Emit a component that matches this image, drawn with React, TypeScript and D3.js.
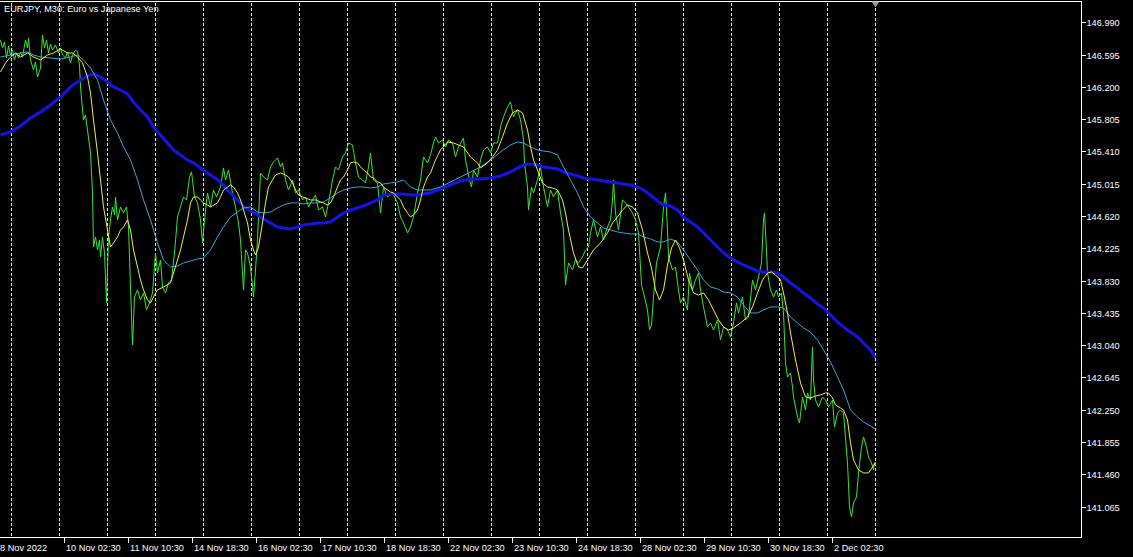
import React from 'react';
import * as d3 from 'd3';

const chartTitle = 'EURJPY, M30:  Euro vs Japanese Yen';

const priceTicks = [146.990, 146.595, 146.200, 145.805, 145.410, 145.015, 144.620, 144.225, 143.830, 143.435, 143.040, 142.645, 142.250, 141.855, 141.460, 141.065];

const timeLabels = ['8 Nov 2022', '10 Nov 02:30', '11 Nov 10:30', '14 Nov 18:30', '16 Nov 02:30', '17 Nov 10:30', '18 Nov 18:30', '22 Nov 02:30', '23 Nov 10:30', '24 Nov 18:30', '28 Nov 02:30', '29 Nov 10:30', '30 Nov 18:30', '2 Dec 02:30'];
const timeLabelBars = [0, 64, 128, 192, 256, 320, 384, 448, 512, 576, 640, 704, 768, 832];

const daySeparatorBars = [11, 59, 107, 155, 203, 251, 299, 347, 395, 443, 491, 539, 587, 635, 683, 731, 779, 827, 875];

// close price line (bar index, price)
const closeLine: [number, number][] = [
[0,146.779],[2,146.681],[4,146.754],[6,146.559],[8,146.705],[10,146.595],[12,146.657],[14,146.534],[16,146.620],[18,146.559],[20,146.632],[22,146.571],[25,146.779],[27,146.681],[28,146.803],[30,146.534],[33,146.412],[35,146.510],[37,146.326],[40,146.436],[42,146.840],[44,146.681],[46,146.779],[48,146.620],[50,146.730],[52,146.657],[55,146.718],[58,146.620],[60,146.681],[62,146.595],[65,146.559],[67,146.632],[70,146.498],[72,146.595],[75,146.657],[77,146.632],[79,146.473],[80,146.204],[83,145.801],[85,145.862],[87,145.678],[90,145.397],[92,144.908],[93,144.247],[95,144.370],[97,144.211],[99,144.333],[100,144.125],[102,144.370],[104,144.174],[106,143.563],[108,144.370],[110,144.578],[112,144.737],[114,144.639],[115,144.859],[117,144.578],[120,144.737],[123,144.663],[126,144.737],[128,144.492],[130,143.758],[132,143.049],[134,143.636],[137,143.722],[140,143.599],[143,143.685],[146,143.477],[149,143.563],[152,143.685],[155,144.174],[157,143.929],[160,144.088],[162,143.758],[165,143.685],[168,143.807],[171,143.844],[174,144.174],[177,144.614],[180,144.737],[183,144.859],[186,144.822],[189,145.103],[191,145.165],[194,144.859],[197,144.786],[200,144.578],[202,144.296],[204,144.578],[207,144.908],[210,144.737],[213,144.944],[216,144.859],[220,144.981],[223,145.214],[225,145.067],[228,145.189],[232,144.908],[235,144.737],[238,144.541],[240,144.333],[243,143.722],[245,144.211],[247,144.174],[250,144.003],[253,143.636],[255,143.966],[257,144.333],[260,145.152],[263,145.103],[267,145.067],[270,145.226],[273,145.287],[277,145.336],[280,145.226],[282,145.275],[285,145.067],[288,144.944],[292,145.067],[295,144.908],[298,144.944],[302,144.822],[305,144.859],[308,144.737],[312,144.822],[315,144.883],[318,144.700],[322,144.737],[325,144.614],[328,144.786],[332,145.067],[335,145.226],[338,145.189],[342,145.348],[345,145.397],[348,145.519],[352,145.495],[355,145.275],[358,145.103],[362,145.067],[365,145.030],[368,145.226],[370,145.397],[373,145.067],[377,145.030],[380,144.663],[383,144.981],[387,144.859],[392,144.908],[397,144.786],[400,144.614],[403,144.541],[407,144.419],[410,144.492],[413,144.614],[417,144.908],[420,145.067],[423,145.348],[427,145.275],[430,145.373],[433,145.519],[435,145.593],[438,145.519],[442,145.556],[445,145.470],[448,145.556],[452,145.519],[455,145.348],[458,145.470],[463,145.580],[465,145.311],[467,145.189],[469,145.067],[471,144.981],[473,145.189],[477,145.103],[480,145.311],[483,145.434],[487,145.470],[490,145.397],[493,145.519],[497,145.519],[500,145.715],[503,145.837],[507,145.960],[510,146.021],[513,145.837],[515,145.886],[517,145.923],[520,145.801],[523,145.556],[524,145.275],[527,144.981],[528,144.700],[531,144.981],[533,144.908],[537,145.067],[540,145.226],[543,144.981],[547,144.737],[550,144.944],[553,144.859],[557,144.944],[560,144.663],[563,144.455],[565,143.783],[568,144.052],[572,143.966],[575,144.088],[578,144.052],[582,144.125],[585,144.211],[588,144.247],[590,144.419],[593,144.578],[597,144.370],[600,144.492],[603,144.333],[607,144.492],[610,144.578],[612,144.822],[613,145.067],[615,144.663],[618,144.455],[622,144.822],[625,144.786],[628,144.737],[632,144.663],[635,144.578],[638,144.419],[641,143.783],[643,143.685],[647,143.477],[649,143.232],[651,143.294],[653,143.636],[656,144.052],[660,144.247],[663,144.737],[665,144.908],[667,144.455],[668,144.125],[672,143.966],[675,144.003],[678,143.722],[680,143.563],[683,143.636],[687,143.477],[689,143.929],[692,143.722],[695,143.844],[698,143.929],[700,143.722],[703,143.514],[707,143.269],[710,143.318],[713,143.232],[717,143.355],[720,143.110],[723,143.269],[727,143.232],[730,143.147],[733,143.318],[736,143.563],[738,143.440],[742,143.636],[745,143.355],[748,143.391],[752,143.844],[755,143.722],[758,143.881],[761,144.052],[763,144.578],[764,144.663],[766,144.211],[767,143.929],[770,143.722],[773,143.636],[776,143.722],[778,143.636],[781,143.685],[783,143.440],[785,142.829],[787,142.658],[790,142.707],[792,142.535],[793,142.413],[797,142.169],[799,142.095],[802,142.413],[805,142.254],[807,142.462],[810,142.376],[812,143.025],[813,142.621],[815,142.376],[818,142.291],[822,142.413],[825,142.376],[828,142.291],[832,142.376],[834,142.046],[837,142.217],[840,142.254],[843,142.217],[847,141.606],[849,141.068],[851,140.946],[853,141.117],[856,141.190],[858,141.484],[861,141.802],[863,141.924],[866,141.802],[868,141.679],[871,141.606],[873,141.520],[874,141.606],[875,141.582]
];

// fast moving average (yellow)
const maFast: [number, number][] = [
[0,146.388],[5,146.498],[10,146.571],[15,146.620],[20,146.571],[27,146.620],[33,146.571],[40,146.534],[47,146.595],[53,146.620],[60,146.669],[67,146.620],[72,146.620],[77,146.571],[82,146.498],[87,146.326],[90,146.131],[93,145.801],[97,145.397],[100,145.067],[103,144.737],[107,144.455],[110,144.247],[113,144.296],[117,144.370],[120,144.455],[123,144.492],[127,144.578],[130,144.455],[133,144.211],[137,144.003],[140,143.844],[143,143.722],[147,143.599],[150,143.563],[153,143.636],[157,143.722],[163,143.758],[170,143.807],[173,143.929],[177,144.088],[180,144.211],[183,144.370],[187,144.578],[190,144.786],[193,144.859],[197,144.859],[200,144.822],[203,144.786],[207,144.761],[210,144.737],[217,144.786],[220,144.859],[223,144.944],[227,144.981],[230,145.006],[233,144.981],[237,144.908],[240,144.822],[243,144.700],[247,144.541],[250,144.333],[253,144.211],[255,144.150],[258,144.247],[262,144.541],[265,144.786],[268,144.981],[272,145.067],[275,145.128],[280,145.152],[285,145.128],[288,145.103],[292,145.030],[295,144.944],[298,144.883],[302,144.859],[305,144.847],[310,144.822],[315,144.822],[320,144.798],[323,144.786],[327,144.761],[330,144.786],[333,144.859],[337,144.981],[340,145.067],[343,145.103],[347,145.189],[350,145.275],[353,145.287],[357,145.275],[360,145.226],[363,145.189],[367,145.152],[370,145.103],[373,145.091],[377,145.042],[380,145.030],[383,144.981],[387,144.944],[390,144.920],[393,144.908],[397,144.859],[400,144.822],[403,144.737],[407,144.663],[410,144.614],[413,144.639],[417,144.700],[420,144.822],[423,144.981],[427,145.103],[430,145.152],[435,145.311],[440,145.434],[447,145.531],[453,145.519],[458,145.495],[463,145.470],[470,145.348],[477,145.275],[480,145.214],[487,145.275],[492,145.348],[497,145.434],[502,145.593],[507,145.764],[512,145.886],[517,145.923],[522,145.886],[527,145.678],[530,145.470],[533,145.311],[537,145.189],[542,145.030],[547,144.981],[552,144.969],[557,144.944],[562,144.822],[565,144.663],[568,144.455],[573,144.174],[578,144.003],[582,143.991],[587,144.088],[593,144.211],[600,144.296],[607,144.419],[612,144.541],[617,144.614],[622,144.700],[627,144.761],[632,144.737],[637,144.663],[642,144.455],[647,144.174],[651,143.991],[655,143.722],[659,143.599],[663,143.722],[667,144.027],[671,144.235],[675,144.333],[679,144.235],[683,144.088],[688,143.844],[693,143.685],[698,143.660],[703,143.685],[708,143.599],[713,143.477],[718,143.355],[723,143.269],[728,143.232],[733,143.257],[740,143.318],[747,143.391],[752,143.514],[757,143.685],[762,143.844],[767,143.929],[771,143.942],[775,143.905],[780,143.844],[783,143.685],[787,143.440],[790,143.196],[795,142.866],[800,142.584],[805,142.413],[810,142.401],[815,142.425],[820,142.438],[825,142.462],[828,142.462],[832,142.401],[835,142.315],[840,142.279],[843,142.254],[847,142.132],[850,141.851],[853,141.643],[858,141.520],[863,141.484],[868,141.484],[872,141.557],[875,141.618]
];

// medium moving average (light blue)
const maMid: [number, number][] = [
[0,146.571],[10,146.595],[20,146.620],[27,146.632],[33,146.595],[40,146.571],[50,146.559],[60,146.546],[70,146.571],[77,146.595],[83,146.534],[90,146.436],[97,146.290],[103,146.045],[110,145.801],[117,145.642],[123,145.470],[130,145.311],[137,145.067],[143,144.822],[150,144.578],[157,144.296],[163,144.088],[170,144.003],[177,144.015],[183,144.052],[190,144.076],[197,144.101],[203,144.113],[210,144.211],[217,144.370],[223,144.492],[230,144.614],[237,144.675],[243,144.724],[250,144.737],[257,144.675],[263,144.663],[270,144.675],[277,144.724],[283,144.761],[290,144.786],[297,144.786],[303,144.773],[310,144.786],[317,144.786],[323,144.798],[330,144.847],[337,144.908],[343,144.944],[350,144.969],[357,144.981],[363,144.981],[370,144.969],[377,144.981],[383,145.018],[390,145.030],[397,145.042],[403,145.067],[410,144.981],[417,144.944],[423,144.944],[430,144.944],[440,144.981],[450,145.042],[460,145.103],[470,145.165],[480,145.226],[490,145.311],[500,145.409],[510,145.495],[517,145.531],[523,145.519],[530,145.470],[537,145.434],[543,145.421],[550,145.409],[557,145.373],[563,145.226],[570,145.067],[577,144.908],[583,144.737],[590,144.614],[597,144.541],[603,144.480],[610,144.455],[617,144.431],[623,144.419],[630,144.406],[637,144.406],[643,144.370],[650,144.345],[657,144.309],[663,144.309],[670,144.345],[677,144.309],[683,144.211],[690,144.088],[697,143.966],[703,143.844],[710,143.758],[717,143.734],[723,143.697],[730,143.685],[737,143.636],[743,143.538],[750,143.440],[757,143.440],[763,143.477],[770,143.514],[777,143.514],[783,143.501],[790,143.391],[797,143.318],[803,143.257],[810,143.208],[817,143.110],[823,142.988],[830,142.841],[837,142.658],[843,142.499],[850,142.254],[857,142.169],[863,142.107],[870,142.058],[875,142.022]
];

// slow moving average (thick blue)
const maSlow: [number, number][] = [
[0,145.617],[10,145.654],[20,145.727],[30,145.825],[40,145.898],[50,145.984],[60,146.082],[70,146.204],[80,146.290],[87,146.339],[93,146.363],[100,146.326],[107,146.265],[113,146.204],[120,146.167],[127,146.118],[133,146.021],[140,145.923],[147,145.837],[153,145.715],[160,145.617],[167,145.519],[173,145.434],[180,145.373],[187,145.311],[193,145.275],[200,145.214],[207,145.152],[213,145.103],[220,145.042],[230,144.908],[237,144.822],[243,144.749],[250,144.688],[257,144.639],[263,144.590],[270,144.541],[277,144.492],[283,144.480],[290,144.468],[297,144.492],[303,144.516],[310,144.529],[317,144.541],[323,144.541],[330,144.553],[337,144.614],[343,144.663],[350,144.700],[357,144.724],[363,144.749],[370,144.786],[377,144.822],[383,144.883],[390,144.896],[397,144.896],[403,144.896],[410,144.883],[417,144.883],[423,144.896],[430,144.908],[440,144.957],[450,145.006],[460,145.055],[470,145.079],[480,145.079],[490,145.091],[500,145.116],[510,145.165],[517,145.214],[523,145.250],[530,145.262],[537,145.250],[543,145.226],[550,145.214],[557,145.201],[563,145.165],[570,145.140],[577,145.116],[583,145.091],[590,145.079],[597,145.067],[603,145.055],[610,145.042],[617,145.030],[623,145.018],[630,145.006],[637,144.981],[643,144.944],[650,144.883],[657,144.810],[663,144.761],[670,144.749],[677,144.700],[683,144.614],[690,144.553],[697,144.492],[703,144.419],[710,144.333],[717,144.247],[723,144.174],[730,144.113],[737,144.064],[743,144.027],[750,143.991],[757,143.954],[763,143.942],[770,143.942],[777,143.929],[783,143.881],[790,143.807],[797,143.746],[803,143.685],[810,143.624],[817,143.550],[823,143.501],[830,143.416],[837,143.330],[843,143.269],[850,143.208],[857,143.147],[863,143.073],[870,142.988],[875,142.890]
];

const W = 1133;
const H = 557;
const PLOT_RIGHT = 1081.5;
const PLOT_TOP = 1.5;
const PLOT_BOTTOM = 537.5;
const FONT = "'Liberation Sans', Arial, sans-serif";

export default function App() {
  const x = d3.scaleLinear().domain([0, 875]).range([0.5, 875.5]);
  const y = d3.scaleLinear().domain([146.990, 141.065]).range([22.7, 507.2]);
  const line = d3.line<[number, number]>().x(d => x(d[0])).y(d => y(d[1]));

  return (
    <svg width={W} height={H} style={{ position: 'fixed', left: 0, top: 0, background: '#000' }}>
      <rect x={0} y={0} width={W} height={H} fill="#000" />
      {daySeparatorBars.map((b, i) => (
        <line key={'g' + i} x1={x(b)} x2={x(b)} y1={PLOT_TOP + 1} y2={PLOT_BOTTOM} stroke="#e8e8e8" strokeWidth={1} strokeDasharray="3,2" shapeRendering="crispEdges" />
      ))}
      <path d={line(closeLine) || ''} fill="none" stroke="#35e635" strokeWidth={1} />
      <path d={line(maSlow) || ''} fill="none" stroke="#1414e6" strokeWidth={3} />
      <path d={line(maMid) || ''} fill="none" stroke="#3aa6dc" strokeWidth={1} />
      <path d={line(maFast) || ''} fill="none" stroke="#f0f03c" strokeWidth={1} />
      {/* frame */}
      <line x1={0} x2={PLOT_RIGHT} y1={PLOT_TOP} y2={PLOT_TOP} stroke="#fff" strokeWidth={1} shapeRendering="crispEdges" />
      <line x1={0} x2={PLOT_RIGHT} y1={PLOT_BOTTOM} y2={PLOT_BOTTOM} stroke="#fff" strokeWidth={1} shapeRendering="crispEdges" />
      <line x1={PLOT_RIGHT} x2={PLOT_RIGHT} y1={PLOT_TOP} y2={PLOT_BOTTOM} stroke="#fff" strokeWidth={1} shapeRendering="crispEdges" />
      {/* shift marker */}
      <polygon points={`${x(875) - 4},${PLOT_TOP} ${x(875) + 4},${PLOT_TOP} ${x(875)},${PLOT_TOP + 6}`} fill="#9a9a9a" />
      {/* price axis */}
      {priceTicks.map((p, i) => {
        const yy = Math.floor(y(p)) + 0.5;
        return (
          <g key={'p' + i}>
            <line x1={PLOT_RIGHT} x2={PLOT_RIGHT + 4} y1={yy} y2={yy} stroke="#fff" strokeWidth={1} shapeRendering="crispEdges" />
            <text x={1086.5} y={yy + 3.4} fill="#fff" fontSize={9.2} fontFamily={FONT}>{p.toFixed(3)}</text>
          </g>
        );
      })}
      {/* time axis */}
      {timeLabels.map((t, i) => {
        const b = timeLabelBars[i];
        const xx = x(b);
        return (
          <g key={'t' + i}>
            {i > 0 && <line x1={xx} x2={xx} y1={PLOT_BOTTOM} y2={PLOT_BOTTOM + 5} stroke="#fff" strokeWidth={1} shapeRendering="crispEdges" />}
            <text x={i === 0 ? 0 : xx + 1.5} y={551} fill="#fff" fontSize={9.2} fontFamily={FONT}>{t}</text>
          </g>
        );
      })}
      <text x={4} y={11.5} fill="#fff" fontSize={9.2} fontFamily={FONT}>{chartTitle}</text>
    </svg>
  );
}
